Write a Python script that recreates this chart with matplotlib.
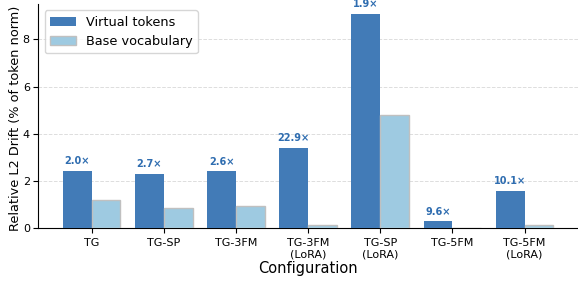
import numpy as np
import matplotlib
matplotlib.use("Agg")
import matplotlib.pyplot as plt

# Datos
configs = ["TG", "TG-SP", "TG-3FM", "TG-3FM\n(LoRA)", "TG-SP\n(LoRA)", "TG-5FM", "TG-5FM\n(LoRA)"]
virtual = [2.45, 2.32, 2.41, 3.42, 9.07, 0.30, 1.60]
base = [1.22, 0.86, 0.93, 0.15, 4.80, 0.031, 0.158]
ratios = ["2.0×", "2.7×", "2.6×", "22.9×", "1.9×", "9.6×", "10.1×"]

x = np.arange(len(configs))
w = 0.4

fig, ax = plt.subplots(figsize=(5.78, 2.82), dpi=100)
fig.subplots_adjust(left=0.066, right=1.0, bottom=0.19, top=0.986)

ax.bar(x - w/2, virtual, w, color="#427bb7", label="Virtual tokens", zorder=3)
ax.bar(x + w/2, base, w, color="#9ecae1", edgecolor="#c0c0c0", linewidth=1.0,
       label="Base vocabulary", zorder=3)

# Etiquetas de ratio
for xi, v, r in zip(x, virtual, ratios):
    ax.text(xi - w/2, v + 0.2, r, ha="center", va="bottom", fontsize=7,
            fontweight="bold", color="#2f6db0")

ax.set_xticks(x)
ax.set_xticklabels(configs, fontsize=8)
ax.tick_params(axis="y", labelsize=8, pad=2.5)
ax.set_ylim(0, 9.5)
ax.set_ylabel("Relative L2 Drift (% of token norm)", fontsize=9.3)
ax.yaxis.set_label_coords(-0.029, 0.49)
ax.set_xlabel("Configuration", fontsize=10.5, labelpad=1)
ax.grid(axis="y", linestyle="--", color="#dddddd", linewidth=0.7, zorder=0)
ax.spines["top"].set_visible(False)
ax.spines["right"].set_visible(False)
ax.legend(loc="upper left", fontsize=9.3)

fig.savefig("out.png", dpi=100)
